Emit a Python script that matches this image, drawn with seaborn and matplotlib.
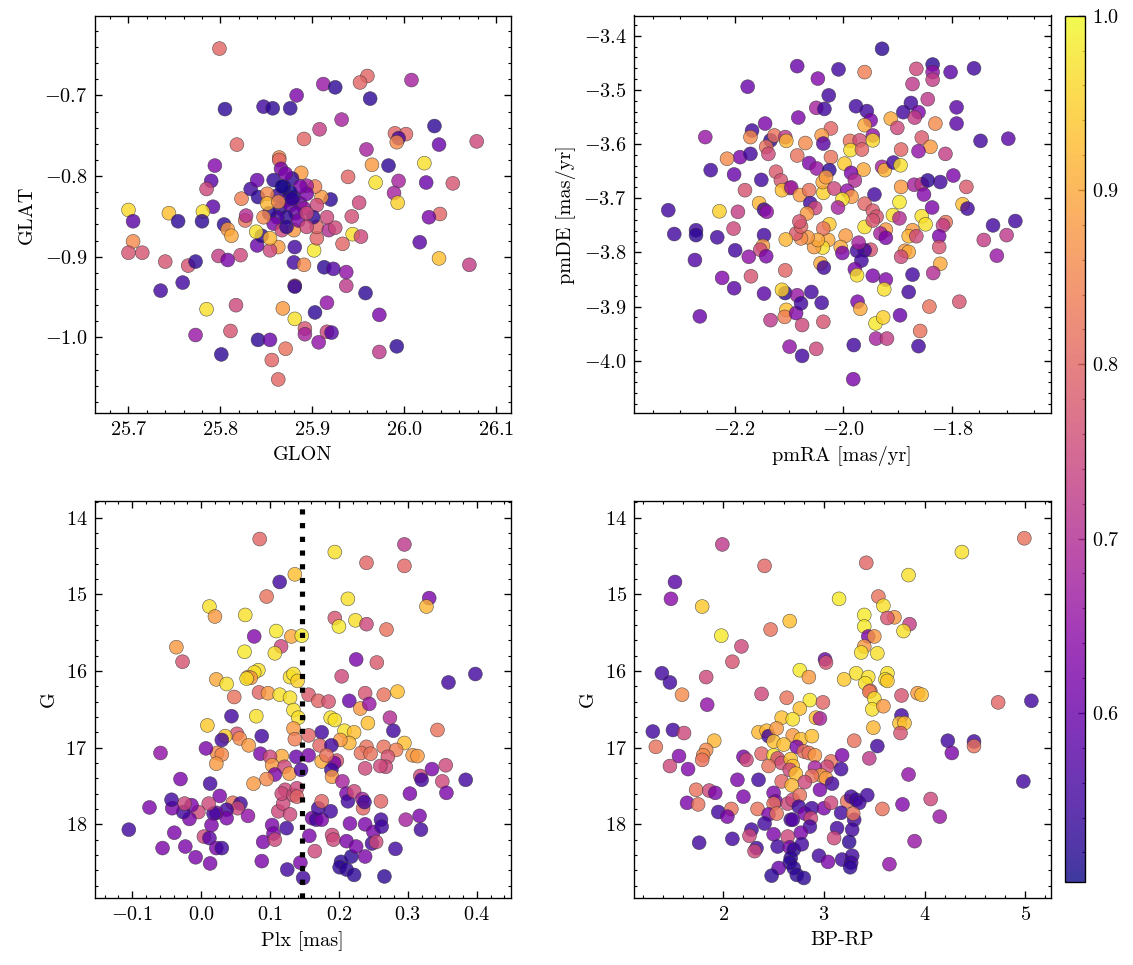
import matplotlib
matplotlib.use("Agg")
import matplotlib.pyplot as plt
import seaborn as sns
import pandas as pd
from matplotlib.ticker import MultipleLocator
from matplotlib.cm import ScalarMappable
from matplotlib.colors import Normalize

# ---------------- data ----------------
glon = [25.799, 25.960, 25.952, 26.008, 25.912, 25.925, 25.883, 25.963, 25.805, 25.847, 25.857, 25.876,
        25.932, 25.908, 26.033, 25.891, 25.990, 26.002, 25.994, 25.992, 26.038, 26.079, 25.818, 25.959,
        25.864, 25.864, 26.022, 25.965, 25.794, 25.983, 25.866, 25.888, 25.939, 25.969, 25.994, 26.024,
        26.053, 25.790, 25.785, 25.989, 25.993, 25.951, 25.792, 25.781, 25.700, 25.744, 26.039, 26.027,
        25.943, 25.705, 25.754, 25.780, 25.804, 25.808, 25.812, 25.944, 25.953, 26.017, 25.705, 25.700,
        25.715, 25.740, 25.765, 25.773, 25.798, 25.808, 25.822, 25.933, 25.902, 25.905, 26.038, 26.071,
        25.735, 25.759, 25.785, 25.817, 25.773, 25.811, 25.801, 25.841, 25.854, 25.871, 25.856, 25.863,
        25.868, 25.881, 25.892, 25.892, 25.907, 25.916, 25.921, 25.903, 25.916, 25.973, 25.992, 25.973,
        25.958, 25.937, 25.937, 25.913, 25.923, 25.881, 25.881, 25.880, 25.891, 25.881, 25.863, 25.854,
        25.840, 25.845, 25.839, 25.854, 25.827, 25.828, 25.823, 25.833, 25.840, 25.841, 25.905, 25.918,
        25.925, 25.916, 25.920, 25.910, 25.905, 25.903, 25.894, 25.901,
        25.858, 25.869, 25.878, 25.880, 25.862, 25.872, 25.887, 25.865, 25.876, 25.891, 25.882, 25.872,
        25.862, 25.853, 25.858, 25.867, 25.880, 25.872, 25.885, 25.894, 25.894, 25.851, 25.851, 25.847,
        25.871, 25.887, 25.863, 25.894, 25.876, 25.867, 25.878]
glat = [-0.642, -0.676, -0.684, -0.681, -0.686, -0.690, -0.700, -0.704, -0.717, -0.714, -0.716, -0.716,
        -0.730, -0.742, -0.738, -0.754, -0.747, -0.748, -0.753, -0.758, -0.761, -0.757, -0.761, -0.767,
        -0.777, -0.780, -0.784, -0.786, -0.787, -0.787, -0.791, -0.796, -0.801, -0.808, -0.806, -0.808,
        -0.809, -0.806, -0.816, -0.821, -0.833, -0.833, -0.838, -0.844, -0.842, -0.846, -0.847, -0.851,
        -0.850, -0.856, -0.856, -0.856, -0.860, -0.866, -0.874, -0.872, -0.875, -0.882, -0.881, -0.895,
        -0.895, -0.906, -0.911, -0.906, -0.899, -0.904, -0.898, -0.884, -0.892, -0.877, -0.902, -0.910,
        -0.942, -0.932, -0.965, -0.960, -0.997, -0.992, -1.021, -1.003, -1.003, -1.014, -1.028, -1.052,
        -0.964, -0.977, -0.989, -0.996, -1.006, -0.993, -0.994, -0.969, -0.957, -0.972, -1.011, -1.018,
        -0.945, -0.936, -0.919, -0.913, -0.915, -0.936, -0.937, -0.907, -0.910, -0.888, -0.888, -0.892,
        -0.886, -0.874, -0.869, -0.877, -0.855, -0.849, -0.828, -0.816, -0.805, -0.826, -0.863, -0.867,
        -0.864, -0.851, -0.829, -0.826, -0.836, -0.813, -0.812, -0.851,
        -0.805, -0.813, -0.803, -0.826, -0.824, -0.830, -0.834, -0.840, -0.836, -0.840, -0.846, -0.851,
        -0.851, -0.846, -0.859, -0.867, -0.867, -0.863, -0.855, -0.863, -0.822, -0.822, -0.834, -0.851,
        -0.797, -0.813, -0.832, -0.846, -0.820, -0.813, -0.828]
prob_pos = [0.80, 0.80, 0.80, 0.68, 0.66, 0.53, 0.62, 0.53, 0.53, 0.55, 0.53, 0.53,
            0.68, 0.73, 0.53, 0.80, 0.80, 0.80, 0.56, 0.86, 0.60, 0.75, 0.80, 0.68,
            0.86, 0.80, 0.97, 0.88, 0.63, 0.53, 0.62, 0.88, 0.80, 0.97, 0.68, 0.60,
            0.77, 0.58, 0.75, 0.68, 0.95, 0.75, 0.58, 0.97, 0.96, 0.93, 0.80, 0.62,
            0.76, 0.58, 0.53, 0.53, 0.53, 0.88, 0.90, 0.97, 0.75, 0.58, 0.86, 0.77,
            0.77, 0.77, 0.77, 0.53, 0.73, 0.62, 0.75, 0.80, 0.98, 0.80, 0.93, 0.73,
            0.55, 0.55, 0.97, 0.75, 0.66, 0.77, 0.53, 0.53, 0.60, 0.82, 0.80, 0.80,
            0.88, 0.97, 0.77, 0.68, 0.65, 0.75, 0.57, 0.53, 0.65, 0.62, 0.53, 0.72,
            0.53, 0.72, 0.65, 0.53, 0.57, 0.77, 0.53, 0.55, 0.86, 0.55, 0.88, 0.75,
            0.60, 0.53, 0.97, 0.92, 0.82, 0.70, 0.84, 0.55, 0.60, 0.53, 0.80, 0.70,
            0.75, 0.75, 0.53, 0.88, 0.75, 0.84, 0.68, 0.53,
            0.53, 0.52, 0.53, 0.52, 0.55, 0.58, 0.60, 0.53, 0.60, 0.66, 0.60, 0.53,
            0.56, 0.53, 0.62, 0.75, 0.88, 0.53, 0.62, 0.75, 0.62, 0.86, 0.92, 0.86,
            0.62, 0.62, 0.86, 0.75, 0.51, 0.51, 0.53]

pmra = [-1.929, -2.085, -2.009, -1.961, -2.047, -1.866, -1.836, -1.836, -1.836, -1.803, -1.760, -2.176,
        -1.873, -2.027, -1.845, -1.977, -1.957, -2.050, -2.035, -1.876, -1.890, -1.862, -1.869, -1.792,
        -2.083, -1.950, -1.961, -1.913, -1.901, -1.831, -1.792, -2.023, -2.144, -2.168, -2.171, -2.254,
        -2.134, -2.127, -2.107, -2.105, -2.040, -2.037, -2.070, -1.988, -1.970, -1.946, -1.946, -1.856,
        -1.748, -1.697, -1.987, -1.966, -1.894, -1.840, -1.862, -1.8125, -2.142, -2.138, -2.190, -2.171,
        -2.214, -2.085, -2.023, -1.998, -2.063, -2.049, -2.026, -2.244, -2.201, -2.124, -2.115, -2.151,
        -1.963, -1.929, -1.924, -1.908, -1.895, -1.986, -1.979, -2.099, -2.113, -2.096, -2.080, -2.063,
        -2.037, -2.038, -2.032, -2.017, -1.993, -1.985, -2.002, -2.181, -1.943, -1.894, -1.897, -1.870,
        -1.856, -1.852, -1.822, -1.798, -1.845, -1.774, -2.155, -2.146, -2.141, -2.228, -2.322, -2.194,
        -2.061, -2.052, -2.067, -2.010, -1.961, -1.946, -1.939, -1.909, -1.897, -1.856, -1.849, -1.837,
        -1.781, -1.772, -1.725, -1.684, -1.742, -1.700, -1.718, -1.812, -1.817, -1.824, -1.824, -1.822,
        -1.835, -1.873, -1.880, -1.866, -1.873, -1.880, -1.842, -1.787, -1.859, -1.862, -1.887, -1.880,
        -1.894, -1.922, -1.932, -1.922, -1.961, -1.946, -1.950, -1.961, -1.975, -1.967, -1.972, -1.979,
        -1.975, -1.946, -1.922, -1.925, -1.974, -1.969, -1.941, -1.927, -1.896, -1.940, -1.920, -1.981,
        -1.982, -1.996, -2.005, -2.002, -2.028, -2.026, -2.037, -2.038, -2.054, -2.047, -2.066, -2.078,
        -2.087, -2.106, -2.078, -2.081, -2.042, -2.036, -2.107, -2.146, -2.148, -2.153, -2.142, -2.174,
        -2.202, -2.199, -2.232, -2.271, -2.271, -2.311, -2.273, -2.223, -2.201, -2.170, -2.146, -2.264,
        -2.134, -2.107, -2.113, -2.105, -2.108, -2.087, -2.085, -2.078, -2.059, -2.040, -2.076, -2.037,
        -2.099, -2.076, -2.050]
pmde = [-3.424, -3.456, -3.462, -3.467, -3.479, -3.461, -3.453, -3.467, -3.481, -3.467, -3.460, -3.494,
        -3.489, -3.510, -3.517, -3.530, -3.539, -3.533, -3.535, -3.524, -3.541, -3.541, -3.551, -3.532,
        -3.551, -3.556, -3.565, -3.553, -3.570, -3.562, -3.562, -3.571, -3.562, -3.575, -3.587, -3.587,
        -3.593, -3.584, -3.587, -3.594, -3.584, -3.599, -3.598, -3.594, -3.593, -3.584, -3.593, -3.588,
        -3.594, -3.590, -3.611, -3.610, -3.610, -3.605, -3.613, -3.618, -3.605, -3.618, -3.624, -3.618,
        -3.627, -3.621, -3.624, -3.636, -3.635, -3.645, -3.648, -3.648, -3.656, -3.651, -3.667, -3.666,
        -3.647, -3.642, -3.648, -3.634, -3.639, -3.653, -3.667, -3.681, -3.685, -3.680, -3.694, -3.685,
        -3.690, -3.670, -3.661, -3.682, -3.686, -3.697, -3.702, -3.685, -3.693, -3.679, -3.707, -3.675,
        -3.674, -3.693, -3.670, -3.658, -3.667, -3.679, -3.709, -3.721, -3.725, -3.724, -3.722, -3.725,
        -3.709, -3.718, -3.728, -3.717, -3.710, -3.723, -3.734, -3.731, -3.737, -3.733, -3.748, -3.717,
        -3.711, -3.719, -3.750, -3.742, -3.777, -3.768, -3.806, -3.744, -3.750, -3.770, -3.790, -3.821,
        -3.838, -3.759, -3.770, -3.770, -3.841, -3.873, -3.900, -3.891, -3.945, -3.973, -3.797, -3.799,
        -3.808, -3.758, -3.765, -3.773, -3.753, -3.741, -3.795, -3.796, -3.797, -3.815, -3.782, -3.831,
        -3.842, -3.843, -3.850, -3.868, -3.891, -3.904, -3.931, -3.920, -3.916, -3.959, -3.959, -3.971,
        -4.034, -3.769, -3.790, -3.801, -3.777, -3.748, -3.756, -3.791, -3.790, -3.777, -3.772, -3.774,
        -3.765, -3.776, -3.752, -3.743, -3.820, -3.828, -3.833, -3.768, -3.788, -3.795, -3.807, -3.808,
        -3.756, -3.796, -3.772, -3.759, -3.768, -3.766, -3.814, -3.847, -3.866, -3.844, -3.876, -3.918,
        -3.925, -3.875, -3.869, -3.906, -3.919, -3.912, -3.879, -3.894, -3.873, -3.893, -3.934, -3.928,
        -3.974, -3.991, -3.978]
prob_pm = [0.53, 0.60, 0.55, 0.84, 0.63, 0.75, 0.53, 0.65, 0.73, 0.58, 0.55, 0.60,
           0.72, 0.55, 0.72, 0.55, 0.55, 0.68, 0.55, 0.55, 0.55, 0.62, 0.73, 0.58,
           0.62, 0.62, 0.90, 0.90, 0.75, 0.86, 0.58, 0.80, 0.62, 0.55, 0.86, 0.66,
           0.53, 0.82, 0.72, 0.92, 0.88, 0.58, 0.86, 0.82, 0.76, 0.65, 0.96, 0.78,
           0.55, 0.58, 0.97, 0.80, 0.80, 0.88, 0.65, 0.73, 0.82, 0.75, 0.62, 0.55,
           0.86, 0.82, 0.82, 0.94, 0.62, 0.66, 0.53, 0.55, 0.60, 0.78, 0.77, 0.55,
           0.90, 0.68, 0.92, 0.55, 0.97, 0.62, 0.70, 0.77, 0.93, 0.66, 0.88, 0.82,
           0.95, 0.90, 0.88, 0.75, 0.65, 0.88, 0.97, 0.77, 0.55, 0.88, 0.98, 0.68,
           0.72, 0.63, 0.55, 0.62, 0.53, 0.78, 0.92, 0.55, 0.65, 0.95, 0.55, 0.73,
           0.55, 0.75, 0.88, 0.68, 0.80, 0.78, 0.77, 0.97, 0.70, 0.97, 0.97, 0.62,
           0.93, 0.55, 0.55, 0.55, 0.73, 0.72, 0.66, 0.82, 0.73, 0.62, 0.77, 0.90,
           0.70, 0.88, 0.92, 0.75, 0.55, 0.55, 0.82, 0.77, 0.82, 0.55, 0.88, 0.90,
           0.75, 0.88, 0.68, 0.62, 0.97, 0.77, 0.77, 0.55, 0.55, 0.55, 0.68, 0.62,
           0.97, 0.62, 0.63, 0.97, 0.62, 0.90, 0.98, 0.95, 0.60, 0.68, 0.73, 0.55,
           0.62, 0.88, 0.90, 0.62, 0.90, 0.94, 0.82, 0.97, 0.88, 0.90, 0.88, 0.86,
           0.78, 0.92, 0.80, 0.77, 0.90, 0.55, 0.80, 0.55, 0.88, 0.75, 0.62, 0.65,
           0.75, 0.55, 0.55, 0.55, 0.53, 0.55, 0.57, 0.63, 0.58, 0.77, 0.58, 0.60,
           0.72, 0.53, 0.95, 0.93, 0.84, 0.63, 0.66, 0.55, 0.55, 0.55, 0.75, 0.77,
           0.65, 0.55, 0.75]

plx = [0.085, 0.194, 0.240, 0.295, 0.295, 0.136, 0.114, 0.095, 0.213, 0.331, 0.327, 0.012,
       0.020, 0.064, 0.194, 0.200, 0.224, 0.240, 0.269, 0.109, 0.131, 0.146, 0.077, 0.116,
       0.063, 0.107, -0.036, -0.027, 0.225, 0.255, 0.022, 0.037, 0.083, 0.077, 0.068, 0.072,
       0.066, 0.129, 0.134, 0.140, 0.204, 0.359, 0.398, 0.048, 0.084, 0.097, 0.114, 0.129,
       0.156, 0.170, 0.185, 0.215, 0.238, 0.265, 0.285, 0.231, 0.244, 0.134, 0.141, 0.080,
       0.044, 0.009, 0.188, 0.194, 0.242, 0.274, 0.279, 0.343, 0.175, 0.134, 0.136, 0.156,
       0.208, 0.222, 0.215, 0.202, 0.172, 0.189, 0.295, 0.240, 0.265, 0.283, 0.307, 0.314,
       0.232, 0.246, 0.271, 0.268, 0.260, 0.238, 0.197, 0.193, 0.175, 0.182, 0.156, 0.138,
       0.117, 0.086, 0.100, 0.103, 0.121, 0.128, 0.107, 0.095, 0.076, 0.189, 0.190, 0.205,
       0.145, 0.335, 0.355, 0.318, 0.320, 0.350, 0.356, 0.303, 0.384, 0.052, 0.056, 0.069,
       0.035, 0.030, 0.023, 0.030, 0.022, 0.007, 0.088, -0.059, -0.030, 0.013, 0.027, 0.046,
       0.057, 0.053, 0.068, 0.037, 0.037, 0.022, 0.018, 0.011, -0.004, -0.014, -0.017, -0.026,
       -0.024, -0.042, -0.043, -0.075, -0.105, -0.039, -0.056, -0.023, -0.008, 0.004, 0.012, 0.015,
       0.022, 0.030, 0.013, 0.090, 0.088, 0.103, 0.105, 0.107, 0.112, 0.119, 0.122, 0.117,
       0.134, 0.139, 0.139, 0.129, 0.124, 0.125, 0.144, 0.148, 0.157, 0.165, 0.161, 0.167,
       0.175, 0.170, 0.188, 0.175, 0.190, 0.192, 0.203, 0.201, 0.211, 0.218, 0.222, 0.211,
       0.225, 0.216, 0.211, 0.213, 0.222, 0.234, 0.235, 0.237, 0.238, 0.250, 0.248, 0.254,
       0.238, 0.261, 0.262, 0.261, 0.266, 0.282, 0.297, 0.317, 0.319]
g_plx = [14.28, 14.45, 14.59, 14.35, 14.63, 14.74, 14.84, 15.03, 15.06, 15.05, 15.16, 15.16,
         15.29, 15.27, 15.31, 15.42, 15.34, 15.39, 15.46, 15.48, 15.55, 15.54, 15.55, 15.68,
         15.75, 15.77, 15.69, 15.88, 15.85, 15.89, 16.11, 16.17, 15.99, 16.02, 16.08, 16.09,
         16.10, 16.08, 16.04, 16.13, 16.07, 16.15, 16.04, 16.34, 16.28, 16.29, 16.31, 16.35,
         16.31, 16.39, 16.40, 16.39, 16.29, 16.31, 16.27, 16.49, 16.43, 16.51, 16.61, 16.59,
         16.59, 16.71, 16.61, 16.64, 16.68, 16.61, 16.78, 16.77, 16.80, 16.75, 16.89, 16.84,
         16.78, 16.80, 16.94, 16.90, 16.97, 16.97, 16.94, 16.99, 16.99, 17.03, 17.10, 17.11,
         17.07, 17.08, 17.12, 17.25, 17.24, 17.27, 17.17, 17.20, 17.18, 17.10, 17.10, 17.12,
         17.11, 17.08, 17.12, 17.23, 17.25, 17.34, 17.35, 17.41, 17.47, 17.29, 17.38, 17.44,
         17.29, 17.28, 17.23, 17.37, 17.42, 17.44, 17.59, 17.60, 17.42, 16.82, 16.88, 16.97,
         16.85, 16.90, 17.07, 17.09, 17.21, 17.01, 16.85, 17.07, 17.41, 17.47, 17.63, 17.72,
         17.73, 17.79, 17.89, 17.81, 17.92, 17.85, 17.86, 17.73, 17.84, 17.75, 17.93, 17.84,
         17.73, 17.79, 17.68, 17.78, 18.07, 18.11, 18.31, 18.29, 18.43, 18.16, 18.18, 18.01,
         18.31, 18.31, 18.51, 18.23, 18.48, 18.01, 18.12, 18.20, 17.83, 17.73, 17.55, 17.60,
         17.62, 17.53, 17.64, 17.87, 18.05, 18.59, 18.50, 18.70, 18.15, 18.35, 17.92, 17.94,
         17.94, 17.79, 17.83, 17.70, 18.14, 18.20, 18.49, 18.56, 18.59, 18.42, 18.66, 18.22,
         18.29, 17.99, 17.60, 17.70, 17.57, 17.67, 17.79, 17.71, 18.00, 18.10, 18.25, 18.23,
         18.42, 17.94, 18.03, 17.70, 18.68, 18.32, 17.94, 17.89, 18.07]
prob_plx = [0.80, 0.97, 0.80, 0.72, 0.80, 0.93, 0.55, 0.82, 0.97, 0.62, 0.92, 0.97,
            0.88, 0.97, 0.77, 0.98, 0.97, 0.75, 0.82, 0.98, 0.90, 0.98, 0.63, 0.75,
            0.98, 0.97, 0.88, 0.77, 0.62, 0.78, 0.90, 0.97, 0.97, 0.97, 0.88, 0.88,
            0.97, 0.97, 0.97, 0.95, 0.75, 0.55, 0.55, 0.82, 0.80, 0.88, 0.97, 0.97,
            0.78, 0.80, 0.77, 0.60, 0.77, 0.82, 0.93, 0.88, 0.66, 0.97, 0.97, 0.97,
            0.55, 0.94, 0.97, 0.97, 0.93, 0.70, 0.55, 0.82, 0.55, 0.88, 0.84, 0.80,
            0.97, 0.93, 0.92, 0.88, 0.80, 0.55, 0.93, 0.82, 0.82, 0.84, 0.88, 0.88,
            0.82, 0.82, 0.77, 0.75, 0.75, 0.75, 0.77, 0.62, 0.90, 0.82, 0.62, 0.60,
            0.90, 0.62, 0.75, 0.88, 0.75, 0.88, 0.62, 0.86, 0.88, 0.55, 0.88, 0.68,
            0.57, 0.62, 0.75, 0.75, 0.55, 0.75, 0.62, 0.62, 0.55, 0.77, 0.86, 0.88,
            0.94, 0.55, 0.86, 0.86, 0.88, 0.62, 0.55, 0.65, 0.62, 0.55, 0.62, 0.82,
            0.55, 0.75, 0.65, 0.55, 0.62, 0.62, 0.55, 0.75, 0.75, 0.62, 0.62, 0.55,
            0.75, 0.62, 0.55, 0.62, 0.55, 0.62, 0.62, 0.62, 0.62, 0.75, 0.58, 0.62,
            0.62, 0.55, 0.62, 0.62, 0.62, 0.62, 0.62, 0.75, 0.75, 0.75, 0.75, 0.75,
            0.75, 0.75, 0.80, 0.75, 0.55, 0.55, 0.62, 0.55, 0.62, 0.75, 0.62, 0.55,
            0.62, 0.55, 0.55, 0.80, 0.75, 0.75, 0.53, 0.53, 0.53, 0.53, 0.53, 0.62,
            0.62, 0.62, 0.62, 0.55, 0.75, 0.68, 0.80, 0.55, 0.62, 0.62, 0.55, 0.75,
            0.62, 0.55, 0.55, 0.80, 0.53, 0.55, 0.68, 0.62, 0.55]

bprp = [1.99, 2.41, 3.42, 4.37, 4.99, 3.84, 1.52, 1.48, 1.79, 3.15, 3.54, 3.59,
        3.70, 3.63, 3.85, 3.40, 3.40, 3.79, 2.66, 2.47, 1.98, 3.44, 3.50, 2.18,
        3.40, 3.37, 3.53, 2.09, 3.01, 3.02, 1.39, 1.47, 1.83, 2.76, 2.85, 3.32,
        3.44, 3.41, 3.20, 3.63, 3.61, 3.63, 3.46, 3.45, 3.50, 1.59, 2.38, 2.63,
        2.86, 2.99, 2.76, 1.84, 3.48, 3.59, 3.77, 3.93, 3.97, 4.73, 5.06, 2.58,
        2.69, 2.92, 2.96, 3.77, 3.75, 3.80, 3.49, 3.76, 1.30, 1.50, 1.61, 1.33,
        1.91, 1.83, 1.80, 1.79, 1.56, 1.47, 1.65, 2.35, 2.43, 2.45, 2.53, 2.69,
        2.77, 2.88, 2.50, 2.60, 2.73, 2.80, 2.85, 2.91, 2.38, 2.50, 2.54, 2.58,
        2.67, 2.69, 2.45, 2.66, 2.72, 2.20, 2.23, 3.07, 3.03, 2.91, 2.97, 3.02,
        2.88, 2.81, 2.58, 2.68, 3.08, 3.17, 3.18, 3.30, 3.53, 3.45, 3.84, 4.23,
        4.27, 4.49, 4.49, 4.98, 2.35, 2.14, 2.20, 1.73, 1.86, 1.92, 1.64, 1.75,
        1.95, 2.08, 2.04, 2.34, 2.50, 2.52, 2.50, 2.45, 2.53, 2.64, 2.69, 2.76,
        2.75, 2.67, 2.69, 2.81, 2.88, 2.87, 2.86, 2.77, 2.96, 3.00, 3.07, 3.23,
        3.27, 3.32, 3.35, 3.43, 3.17, 3.30, 3.29, 3.13, 3.28, 3.58, 3.78, 4.06,
        4.15, 3.90, 3.65, 3.10, 3.25, 2.95, 3.04, 3.18, 3.28, 3.27, 3.26, 2.28,
        2.26, 2.09, 1.76, 2.33, 2.31, 2.41, 2.50, 2.54, 2.64, 2.66, 2.70, 2.67,
        2.66, 2.70, 2.73, 2.80, 2.55, 2.48, 2.78]
g_col = [14.35, 14.63, 14.59, 14.45, 14.27, 14.75, 14.84, 15.06, 15.16, 15.06, 15.03, 15.15,
         15.30, 15.31, 15.39, 15.27, 15.42, 15.48, 15.35, 15.46, 15.54, 15.55, 15.55, 15.68,
         15.68, 15.76, 15.77, 15.88, 15.85, 15.89, 16.03, 16.15, 16.08, 15.99, 16.08, 16.03,
         16.08, 16.16, 16.11, 16.03, 16.11, 16.13, 16.26, 16.27, 16.36, 16.31, 16.30, 16.35,
         16.38, 16.41, 16.49, 16.44, 16.50, 16.46, 16.32, 16.29, 16.31, 16.41, 16.39, 16.61,
         16.63, 16.61, 16.62, 16.58, 16.68, 16.68, 16.74, 16.81, 16.79, 16.77, 16.81, 16.99,
         16.91, 17.03, 17.10, 17.16, 17.11, 17.24, 17.28, 16.80, 16.78, 16.85, 16.75, 16.84,
         16.89, 16.85, 16.92, 16.96, 16.99, 17.05, 17.07, 17.10, 17.08, 17.10, 17.14, 17.20,
         17.15, 17.24, 17.24, 17.29, 17.34, 17.12, 17.16, 17.18, 17.25, 17.26, 17.36, 17.40,
         17.37, 17.45, 17.44, 17.49, 17.47, 17.28, 17.10, 16.91, 16.98, 17.14, 17.35, 16.91,
         17.07, 16.92, 16.98, 17.44, 17.42, 17.42, 17.64, 17.55, 17.56, 17.59, 17.72, 17.74,
         17.84, 17.80, 17.90, 17.80, 17.59, 17.70, 17.73, 17.87, 17.86, 17.73, 17.68, 17.62,
         17.77, 17.94, 17.94, 17.86, 17.79, 17.92, 18.03, 18.11, 17.55, 17.79, 17.72, 17.70,
         17.64, 17.68, 17.72, 17.62, 17.85, 17.94, 17.86, 18.05, 18.07, 17.80, 17.74, 17.67,
         17.90, 18.22, 18.52, 18.18, 18.23, 18.41, 18.49, 18.46, 18.41, 18.50, 18.56, 18.07,
         18.15, 18.19, 18.24, 18.31, 18.35, 17.99, 18.13, 18.29, 18.16, 18.30, 18.33, 18.44,
         18.50, 18.57, 18.66, 18.70, 18.57, 18.67, 18.26]
prob_col = [0.72, 0.80, 0.80, 0.97, 0.82, 0.97, 0.58, 0.64, 0.94, 0.98, 0.82, 0.97,
            0.88, 0.77, 0.73, 0.98, 0.98, 0.97, 0.93, 0.82, 0.98, 0.62, 0.88, 0.75,
            0.88, 0.97, 0.97, 0.77, 0.60, 0.77, 0.55, 0.55, 0.75, 0.98, 0.88, 0.97,
            0.97, 0.97, 0.94, 0.97, 0.97, 0.94, 0.80, 0.84, 0.97, 0.86, 0.75, 0.82,
            0.98, 0.80, 0.93, 0.65, 0.97, 0.88, 0.77, 0.88, 0.93, 0.80, 0.55, 0.93,
            0.97, 0.93, 0.68, 0.55, 0.93, 0.93, 0.92, 0.77, 0.55, 0.55, 0.75, 0.82,
            0.92, 0.86, 0.86, 0.82, 0.63, 0.75, 0.63, 0.92, 0.92, 0.55, 0.88, 0.88,
            0.93, 0.93, 0.93, 0.93, 0.62, 0.82, 0.82, 0.88, 0.80, 0.97, 0.76, 0.76,
            0.93, 0.93, 0.82, 0.75, 0.93, 0.62, 0.75, 0.82, 0.75, 0.68, 0.88, 0.88,
            0.82, 0.75, 0.80, 0.92, 0.55, 0.55, 0.62, 0.82, 0.55, 0.72, 0.65, 0.55,
            0.62, 0.55, 0.82, 0.55, 0.55, 0.62, 0.62, 0.82, 0.75, 0.62, 0.62, 0.82,
            0.55, 0.82, 0.62, 0.82, 0.62, 0.62, 0.82, 0.62, 0.82, 0.75, 0.75, 0.82,
            0.55, 0.55, 0.57, 0.62, 0.55, 0.75, 0.55, 0.62, 0.62, 0.62, 0.75, 0.82,
            0.55, 0.55, 0.55, 0.55, 0.55, 0.55, 0.82, 0.55, 0.55, 0.82, 0.63, 0.75,
            0.66, 0.66, 0.65, 0.75, 0.53, 0.55, 0.62, 0.55, 0.55, 0.55, 0.53, 0.55,
            0.75, 0.55, 0.55, 0.55, 0.75, 0.55, 0.62, 0.55, 0.75, 0.62, 0.53, 0.53,
            0.53, 0.53, 0.53, 0.53, 0.60, 0.53, 0.55]

plx_line = 0.147
cbar_ticks = [0.6, 0.7, 0.8, 0.9, 1.0]
prob_min, prob_max = 0.503, 1.0

# ---------------- style ----------------
sns.set_style("ticks")
plt.rcParams.update({
    "font.family": ["serif"],
    "font.serif": ["cmr10", "DejaVu Serif"],
    "mathtext.fontset": "cm",
    "axes.formatter.use_mathtext": True,
    "font.size": 9,
    "axes.labelsize": 9,
    "xtick.labelsize": 9,
    "ytick.labelsize": 9,
    "axes.linewidth": 0.6,
    "axes.edgecolor": "black",
    "axes.labelcolor": "black",
    "text.color": "black",
    "xtick.color": "black",
    "ytick.color": "black",
    "xtick.direction": "in",
    "ytick.direction": "in",
    "xtick.top": True,
    "ytick.right": True,
    "xtick.minor.visible": True,
    "ytick.minor.visible": True,
    "xtick.major.size": 3,
    "ytick.major.size": 3,
    "xtick.minor.size": 1.5,
    "ytick.minor.size": 1.5,
    "xtick.major.width": 0.6,
    "ytick.major.width": 0.6,
    "xtick.minor.width": 0.5,
    "ytick.minor.width": 0.5,
    "xtick.major.pad": 3.2,
    "ytick.major.pad": 3.2,
    "axes.labelpad": 3.5,
})

W, H, DPI = 1133, 965, 162
fig = plt.figure(figsize=(W / DPI, H / DPI), dpi=DPI)

def rect(l, t, r, b):
    return [l / W, 1 - b / H, (r - l) / W, (b - t) / H]

ax1 = fig.add_axes(rect(94.5, 15.5, 510.7, 413.3))
ax2 = fig.add_axes(rect(634.0, 15.5, 1050.7, 413.3))
ax3 = fig.add_axes(rect(94.5, 500.7, 510.7, 898.3))
ax4 = fig.add_axes(rect(634.0, 500.7, 1050.7, 898.3))
cax = fig.add_axes(rect(1064.5, 15.7, 1085.0, 882.0))

norm = (prob_min, prob_max)
kw = dict(palette="plasma", hue_norm=norm, s=38, alpha=0.8,
          edgecolor="#333333", linewidth=0.25, legend=False)

df1 = pd.DataFrame({"GLON": glon, "GLAT": glat, "p": prob_pos})
df2 = pd.DataFrame({"pmRA": pmra, "pmDE": pmde, "p": prob_pm})
df3 = pd.DataFrame({"Plx": plx, "G": g_plx, "p": prob_plx})
df4 = pd.DataFrame({"BPRP": bprp, "G": g_col, "p": prob_col})

sns.scatterplot(data=df1, x="GLON", y="GLAT", hue="p", ax=ax1, **kw)
sns.scatterplot(data=df2, x="pmRA", y="pmDE", hue="p", ax=ax2, **kw)
sns.scatterplot(data=df3, x="Plx", y="G", hue="p", ax=ax3, **kw)
sns.scatterplot(data=df4, x="BPRP", y="G", hue="p", ax=ax4, **kw)

ax3.axvline(plx_line, color="black", ls=":", lw=2.3, zorder=5)

ax1.set_xlim(25.663, 26.116); ax1.set_ylim(-1.094, -0.601)
ax2.set_xlim(-2.385, -1.619); ax2.set_ylim(-4.097, -3.3625)
ax3.set_xlim(-0.1548, 0.4493); ax3.set_ylim(18.965, 13.78)
ax4.set_xlim(1.113, 5.252); ax4.set_ylim(18.965, 13.78)

ax1.xaxis.set_major_locator(MultipleLocator(0.1)); ax1.yaxis.set_major_locator(MultipleLocator(0.1))
ax2.xaxis.set_major_locator(MultipleLocator(0.2)); ax2.yaxis.set_major_locator(MultipleLocator(0.1))
ax3.xaxis.set_major_locator(MultipleLocator(0.1)); ax3.yaxis.set_major_locator(MultipleLocator(1))
ax4.xaxis.set_major_locator(MultipleLocator(1)); ax4.yaxis.set_major_locator(MultipleLocator(1))

ax1.set_xlabel("GLON"); ax1.set_ylabel("GLAT")
ax2.set_xlabel("pmRA [mas/yr]"); ax2.set_ylabel("pmDE [mas/yr]")
ax3.set_xlabel("Plx [mas]"); ax3.set_ylabel("G")
ax4.set_xlabel("BP-RP"); ax4.set_ylabel("G")

for ax in (ax1, ax2, ax3, ax4):
    for sp in ax.spines.values():
        sp.set_visible(True)
        sp.set_linewidth(0.6)

sm = ScalarMappable(norm=Normalize(*norm), cmap="plasma")
cb = fig.colorbar(sm, cax=cax, ticks=cbar_ticks)
cb.solids.set_alpha(0.8)
cb.outline.set_linewidth(0.6)
cax.yaxis.set_minor_locator(MultipleLocator(0.02))
cax.tick_params(which="both", direction="in", right=True, left=False)

fig.savefig("out.png", dpi=DPI)
